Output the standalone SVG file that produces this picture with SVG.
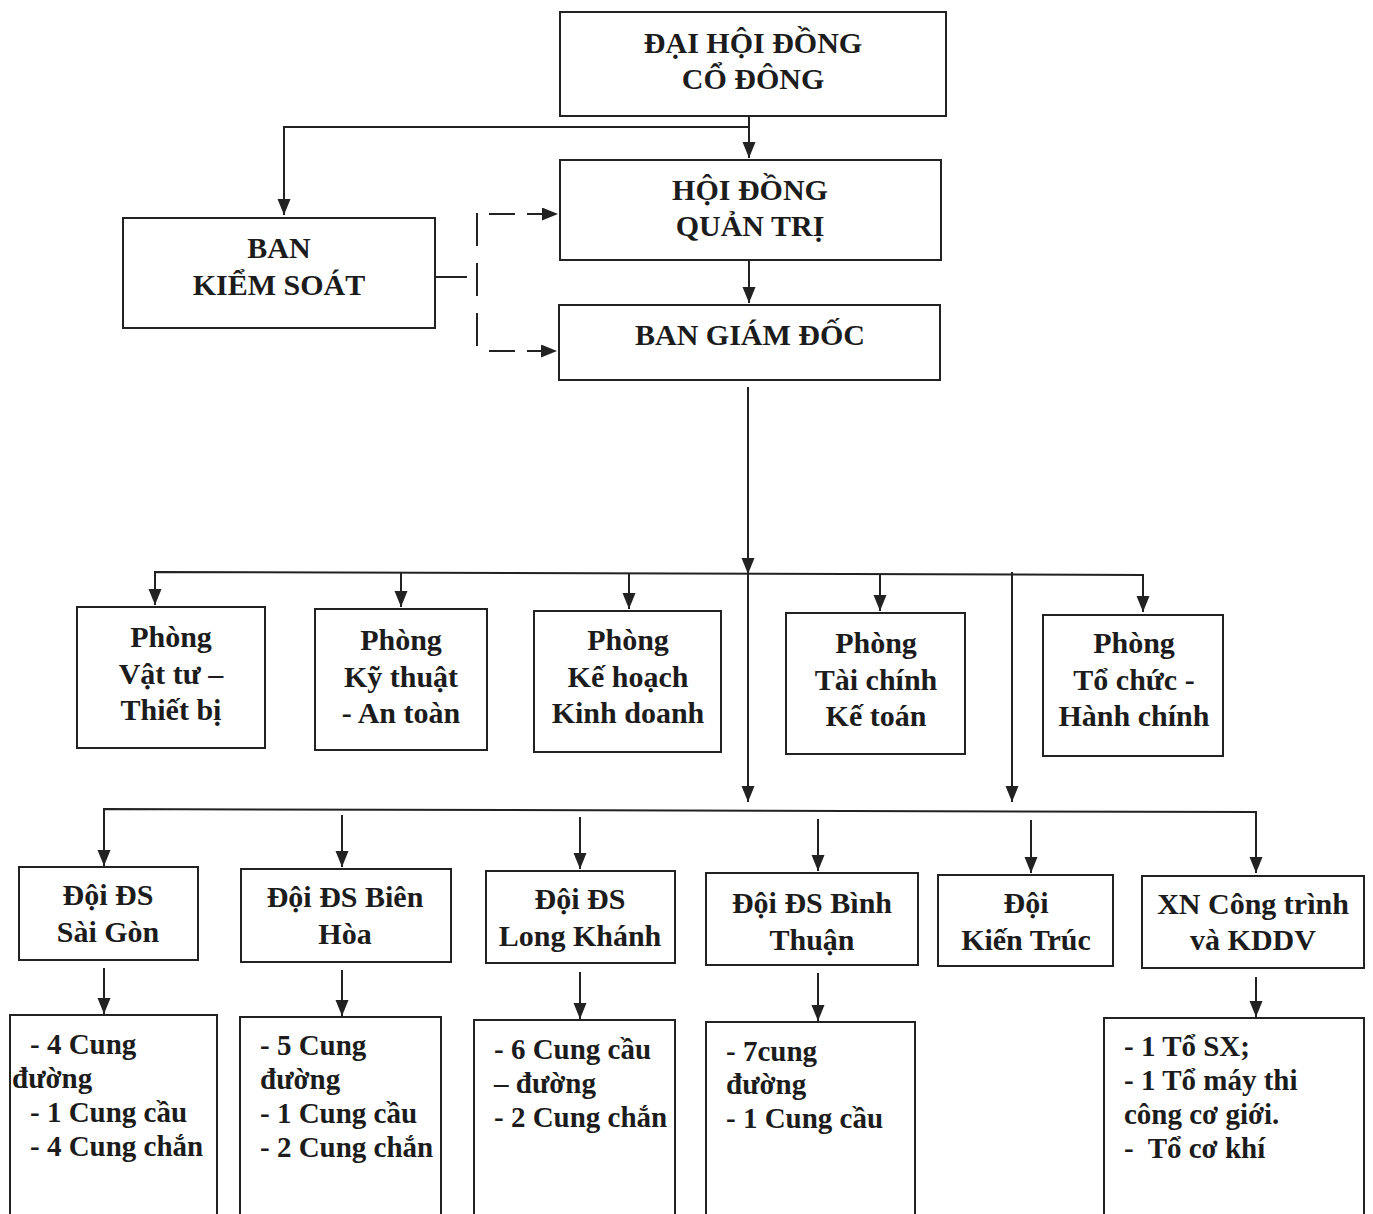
<svg xmlns="http://www.w3.org/2000/svg" width="1373" height="1214" viewBox="0 0 1373 1214">
<style>
.box{fill:#fff;stroke:#222;stroke-width:2}
.ln{fill:none;stroke:#222;stroke-width:2}
.dash{fill:none;stroke:#222;stroke-width:2}
.t{font-family:"Liberation Serif","Times New Roman",serif;font-weight:bold;font-size:30px;fill:#1c1c1c;text-anchor:middle}
.l{font-family:"Liberation Serif","Times New Roman",serif;font-weight:bold;font-size:29px;fill:#1c1c1c;white-space:pre}
</style>
<defs>
<marker id="ah" markerWidth="16" markerHeight="14" refX="16" refY="6.5" orient="auto" markerUnits="userSpaceOnUse">
<path d="M0,0 L16,6.5 L0,13 z" fill="#222"/>
</marker>
</defs>
<rect width="1373" height="1214" fill="#fff"/>
<g id="connectors">
<path class="ln" d="M749 116 L749 158" marker-end="url(#ah)"/>
<path class="ln" d="M749 127 L284 127 L284 215" marker-end="url(#ah)"/>
<path class="ln" d="M749 260 L749 303" marker-end="url(#ah)"/>
<path class="ln" d="M435 277 L467 277"/>
<path class="dash" d="M477 213 L477 349" stroke-dasharray="33 17"/>
<path class="dash" d="M489 214 L558 214" stroke-dasharray="26 12" marker-end="url(#ah)"/>
<path class="dash" d="M489 351 L557 351" stroke-dasharray="26 12" marker-end="url(#ah)"/>
<path class="ln" d="M748 387 L748 574" marker-end="url(#ah)"/>
<path class="ln" d="M748 574 L748 802" marker-end="url(#ah)"/>
<path class="ln" d="M155 605 L155 572 L1143 575 L1143 612" marker-end="url(#ah)"/>
<path class="ln" d="M155 572 L155 605" marker-end="url(#ah)"/>
<path class="ln" d="M401 573 L401 607" marker-end="url(#ah)"/>
<path class="ln" d="M629 573 L629 609" marker-end="url(#ah)"/>
<path class="ln" d="M880 574 L880 611" marker-end="url(#ah)"/>
<path class="ln" d="M1012 572 L1012 802" marker-end="url(#ah)"/>
<path class="ln" d="M104 866 L104 809 L1256 812 L1256 873" marker-end="url(#ah)"/>
<path class="ln" d="M104 809 L104 866" marker-end="url(#ah)"/>
<path class="ln" d="M342 815 L342 867" marker-end="url(#ah)"/>
<path class="ln" d="M580 817 L580 869" marker-end="url(#ah)"/>
<path class="ln" d="M818 819 L818 871" marker-end="url(#ah)"/>
<path class="ln" d="M1031 820 L1031 873" marker-end="url(#ah)"/>
<path class="ln" d="M104 968 L104 1014" marker-end="url(#ah)"/>
<path class="ln" d="M342 970 L342 1016" marker-end="url(#ah)"/>
<path class="ln" d="M580 972 L580 1019" marker-end="url(#ah)"/>
<path class="ln" d="M818 973 L818 1021" marker-end="url(#ah)"/>
<path class="ln" d="M1256 977 L1256 1017" marker-end="url(#ah)"/>
</g>
<g id="dhdcd"><rect class="box" x="560" y="12" width="386" height="104"/>
<text class="t" x="753" y="53">ĐẠI HỘI ĐỒNG</text><text class="t" x="753" y="89">CỔ ĐÔNG</text></g>
<g id="hdqt"><rect class="box" x="560" y="160" width="381" height="100"/>
<text class="t" x="750" y="200">HỘI ĐỒNG</text><text class="t" x="750" y="236">QUẢN TRỊ</text></g>
<g id="bgd"><rect class="box" x="559" y="305" width="381" height="75"/>
<text class="t" x="750" y="345">BAN GIÁM ĐỐC</text></g>
<g id="bks"><rect class="box" x="123" y="218" width="312" height="110"/>
<text class="t" x="279" y="258">BAN</text><text class="t" x="279" y="295">KIỂM SOÁT</text></g>
<g id="p1"><rect class="box" x="77" y="607" width="188" height="141"/>
<text class="t" x="171" y="647">Phòng</text><text class="t" x="171" y="684">Vật tư –</text><text class="t" x="171" y="720">Thiết bị</text></g>
<g id="p2"><rect class="box" x="315" y="609" width="172" height="141"/>
<text class="t" x="401" y="650">Phòng</text><text class="t" x="401" y="687">Kỹ thuật</text><text class="t" x="401" y="723">- An toàn</text></g>
<g id="p3"><rect class="box" x="534" y="611" width="187" height="141"/>
<text class="t" x="628" y="650">Phòng</text><text class="t" x="628" y="687">Kế hoạch</text><text class="t" x="628" y="723">Kinh doanh</text></g>
<g id="p4"><rect class="box" x="786" y="613" width="179" height="141"/>
<text class="t" x="876" y="653">Phòng</text><text class="t" x="876" y="690">Tài chính</text><text class="t" x="876" y="726">Kế toán</text></g>
<g id="p5"><rect class="box" x="1043" y="615" width="180" height="141"/>
<text class="t" x="1134" y="653">Phòng</text><text class="t" x="1134" y="690">Tổ chức -</text><text class="t" x="1134" y="726">Hành chính</text></g>
<g id="d1"><rect class="box" x="19" y="867" width="179" height="93"/>
<text class="t" x="108" y="905">Đội ĐS</text><text class="t" x="108" y="942">Sài Gòn</text></g>
<g id="d2"><rect class="box" x="241" y="869" width="210" height="93"/>
<text class="t" x="345" y="907">Đội ĐS Biên</text><text class="t" x="345" y="944">Hòa</text></g>
<g id="d3"><rect class="box" x="486" y="871" width="189" height="92"/>
<text class="t" x="580" y="909">Đội ĐS</text><text class="t" x="580" y="946">Long Khánh</text></g>
<g id="d4"><rect class="box" x="706" y="873" width="212" height="92"/>
<text class="t" x="812" y="913">Đội ĐS Bình</text><text class="t" x="812" y="950">Thuận</text></g>
<g id="d5"><rect class="box" x="938" y="875" width="175" height="91"/>
<text class="t" x="1026" y="913">Đội</text><text class="t" x="1026" y="950">Kiến Trúc</text></g>
<g id="d6"><rect class="box" x="1142" y="876" width="222" height="92"/>
<text class="t" x="1253" y="914">XN Công trình</text><text class="t" x="1253" y="950">và KDDV</text></g>
<g id="c1"><rect class="box" x="10" y="1015" width="207" height="230"/>
<text class="l" x="30" y="1054">- 4 Cung</text><text class="l" x="12" y="1088">đường</text><text class="l" x="30" y="1122">- 1 Cung cầu</text><text class="l" x="30" y="1156">- 4 Cung chắn</text></g>
<g id="c2"><rect class="box" x="240" y="1017" width="201" height="230"/>
<text class="l" x="260" y="1055">- 5 Cung</text><text class="l" x="260" y="1089">đường</text><text class="l" x="260" y="1123">- 1 Cung cầu</text><text class="l" x="260" y="1157">- 2 Cung chắn</text></g>
<g id="c3"><rect class="box" x="474" y="1020" width="201" height="230"/>
<text class="l" x="494" y="1059">- 6 Cung cầu</text><text class="l" x="494" y="1093">– đường</text><text class="l" x="494" y="1127">- 2 Cung chắn</text></g>
<g id="c4"><rect class="box" x="706" y="1022" width="209" height="230"/>
<text class="l" x="726" y="1061">- 7cung</text><text class="l" x="726" y="1094">đường</text><text class="l" x="726" y="1128">- 1 Cung cầu</text></g>
<g id="c6"><rect class="box" x="1104" y="1018" width="260" height="230"/>
<text class="l" x="1124" y="1056">- 1 Tổ SX;</text><text class="l" x="1124" y="1090">- 1 Tổ máy thi</text><text class="l" x="1124" y="1124">công cơ giới.</text><text class="l" x="1124" y="1158">-  Tổ cơ khí</text></g>
</svg>
